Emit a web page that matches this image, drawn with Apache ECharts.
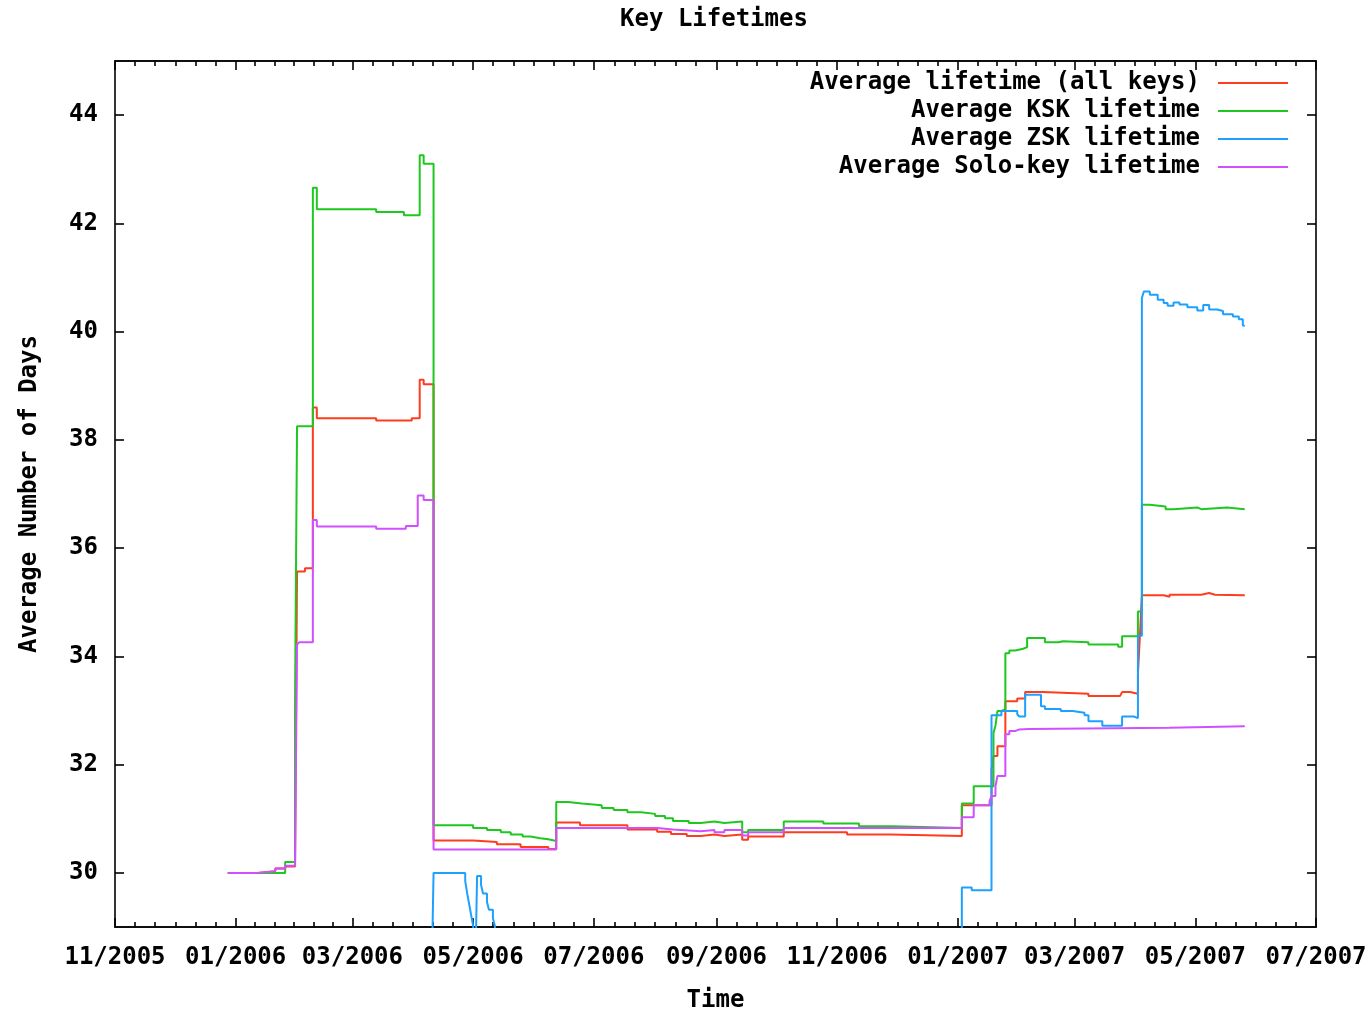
<!DOCTYPE html>
<html><head><meta charset="utf-8">
<script src="https://cdn.jsdelivr.net/npm/echarts@6/dist/echarts.min.js"></script>
<style>html,body{margin:0;padding:0;background:#fff}#c{width:1368px;height:1011px}</style>
</head><body><div id="c"></div>
<script>
const titleText = 'Key Lifetimes';
const xName = 'Time';
const yName = 'Average Number of Days';
const seriesNames = ['Average lifetime (all keys)', 'Average KSK lifetime', 'Average ZSK lifetime', 'Average Solo-key lifetime'];
const tickMonths = ['2005-11','2006-01','2006-03','2006-05','2006-07','2006-09','2006-11','2007-01','2007-03','2007-05','2007-07'];
const yTicks = [30, 32, 34, 36, 38, 40, 42, 44];

const allKeysData = [
['2005-12-28',30.00],['2006-01-12',30.03],['2006-01-21',30.08],['2006-01-26',30.12],['2006-01-31',30.17],
['2006-02-01',35.57],['2006-02-05',35.63],['2006-02-09',38.60],['2006-02-11',38.40],['2006-03-13',38.36],
['2006-03-31',38.40],['2006-04-04',39.11],['2006-04-06',39.03],['2006-04-11',30.60],['2006-05-01',30.57],
['2006-05-13',30.53],['2006-05-25',30.48],['2006-06-08',30.44],['2006-06-12',30.93],['2006-06-24',30.88],
['2006-07-18',30.80],['2006-08-02',30.76],['2006-08-09',30.72],['2006-08-17',30.68],['2006-08-24',30.71],
['2006-08-31',30.68],['2006-09-05',30.71],['2006-09-14',30.61],['2006-09-17',30.67],['2006-10-05',30.75],
['2006-11-06',30.71],['2006-11-28',30.68],['2007-01-03',31.25],['2007-01-18',31.91],['2007-01-19',32.16],
['2007-01-21',32.34],['2007-01-25',33.17],['2007-01-31',33.22],['2007-02-04',33.34],['2007-02-13',33.31],
['2007-03-08',33.27],['2007-03-24',33.24],['2007-03-25',33.34],['2007-03-29',33.31],['2007-04-02',33.67],
['2007-04-03',34.38],['2007-04-04',35.13],['2007-04-15',35.10],['2007-04-18',35.14],['2007-05-04',35.17],
['2007-05-08',35.14],['2007-05-11',35.17],['2007-05-12',35.13],['2007-05-26',35.13]
];
const kskData = [
['2005-12-28',30.00],['2006-01-26',30.20],['2006-01-31',33.20],['2006-02-01',38.25],['2006-02-09',42.66],
['2006-02-11',42.26],['2006-03-13',42.21],['2006-03-27',42.15],['2006-04-04',43.26],['2006-04-06',43.10],
['2006-04-11',30.88],['2006-05-01',30.83],['2006-05-08',30.79],['2006-05-15',30.75],['2006-05-20',30.71],
['2006-05-26',30.67],['2006-05-30',30.64],['2006-06-04',30.62],['2006-06-08',30.59],['2006-06-12',31.31],
['2006-06-18',31.28],['2006-06-25',31.25],['2006-07-05',31.20],['2006-07-11',31.16],['2006-07-18',31.12],
['2006-07-25',31.09],['2006-08-01',31.05],['2006-08-06',31.01],['2006-08-10',30.96],['2006-08-18',30.92],
['2006-08-24',30.95],['2006-08-31',30.92],['2006-09-05',30.95],['2006-09-14',30.75],['2006-09-17',30.79],
['2006-10-05',30.95],['2006-10-25',30.91],['2006-11-12',30.86],['2006-11-29',30.83],['2007-01-03',31.28],
['2007-01-09',31.60],['2007-01-19',32.59],['2007-01-20',32.72],['2007-01-21',32.99],['2007-01-23',33.02],
['2007-01-25',34.06],['2007-01-27',34.11],['2007-01-30',34.14],['2007-02-03',34.17],['2007-02-05',34.34],
['2007-02-14',34.26],['2007-02-21',34.28],['2007-02-23',34.26],['2007-03-08',34.22],['2007-03-23',34.18],
['2007-03-25',34.37],['2007-04-02',34.83],['2007-04-04',36.80],['2007-04-08',36.77],['2007-04-16',36.72],
['2007-04-20',36.75],['2007-05-02',36.72],['2007-05-04',36.75],['2007-05-17',36.72],['2007-05-26',36.72]
];
const zskData = [
['2006-04-10',28.00],['2006-04-11',30.00],['2006-04-27',29.85],['2006-04-28',29.62],['2006-04-29',29.42],
['2006-04-30',29.22],['2006-05-01',29.02],['2006-05-02',28.00],['2006-05-03',29.94],['2006-05-05',29.78],
['2006-05-06',29.62],['2006-05-08',29.46],['2006-05-09',29.32],['2006-05-11',29.16],['2006-05-12',29.02],
['2006-05-13',28.00],['2007-01-03',29.73],['2007-01-08',29.68],['2007-01-18',32.91],['2007-01-23',32.99],
['2007-01-31',32.93],['2007-02-01',32.89],['2007-02-04',33.29],['2007-02-12',33.08],['2007-02-14',33.03],
['2007-02-22',32.99],['2007-02-28',32.96],['2007-03-06',32.91],['2007-03-08',32.80],['2007-03-15',32.72],
['2007-03-25',32.89],['2007-03-31',32.86],['2007-04-02',34.38],['2007-04-04',40.62],['2007-04-05',40.74],
['2007-04-08',40.68],['2007-04-12',40.59],['2007-04-15',40.53],['2007-04-17',40.48],['2007-04-20',40.54],
['2007-04-23',40.50],['2007-04-27',40.45],['2007-05-02',40.39],['2007-05-05',40.49],['2007-05-08',40.41],
['2007-05-12',40.38],['2007-05-15',40.32],['2007-05-20',40.28],['2007-05-23',40.23],['2007-05-25',40.12],
['2007-05-26',40.10]
];
const soloData = [
['2005-12-28',30.00],['2006-01-12',30.03],['2006-01-21',30.08],['2006-01-26',30.13],['2006-01-31',30.19],
['2006-02-01',34.22],['2006-02-02',34.26],['2006-02-09',36.52],['2006-02-11',36.40],['2006-03-13',36.36],
['2006-03-28',36.41],['2006-04-03',36.97],['2006-04-06',36.89],['2006-04-11',30.43],['2006-06-12',30.83],
['2006-08-02',30.80],['2006-08-10',30.77],['2006-08-24',30.79],['2006-08-31',30.75],['2006-09-05',30.79],
['2006-09-14',30.69],['2006-09-17',30.75],['2006-10-05',30.83],['2007-01-03',31.03],['2007-01-09',31.25],
['2007-01-17',31.32],['2007-01-18',31.42],['2007-01-20',31.60],['2007-01-21',31.79],['2007-01-25',32.56],
['2007-01-27',32.62],['2007-01-30',32.65],['2007-02-01',32.66],['2007-02-06',32.68],['2007-04-18',32.71],
['2007-05-26',32.71]
];

const colors = ['#ff3c1e', '#1ec81e', '#1ea0ff', '#d050ff'];
const FONT = 'DejaVu Sans Mono';
const AX = '#000';

function toTs(s) { const p = s.split('-').map(Number); return Date.UTC(p[0], p[1] - 1, p[2] || 1); }
function toPts(arr) { return arr.map(d => [toTs(d[0]), d[1]]); }
const majorTs = tickMonths.map(toTs);
const minorTs = [];
for (let i = 0; i < majorTs.length - 1; i++) for (let k = 1; k < 6; k++) minorTs.push(majorTs[i] + (majorTs[i + 1] - majorTs[i]) * k / 6);
const xMin = majorTs[0], xMax = majorTs[majorTs.length - 1];
function fmt(v) { const d = new Date(v); const m = d.getUTCMonth() + 1; return (m < 10 ? '0' : '') + m + '/' + d.getUTCFullYear(); }

const textBase = { fontFamily: FONT, fontWeight: 'bold', fontSize: 24, color: '#000' };

function xAx(pos, ticks, len, withLabel, extra) {
  return Object.assign({
    type: 'value', position: pos, min: xMin, max: xMax, scale: true,
    axisLine: { show: true, onZero: false, lineStyle: { color: AX, width: 1.6 } },
    axisTick: { show: true, inside: true, length: len, customValues: ticks, lineStyle: { color: AX, width: 1.6 } },
    axisLabel: Object.assign({ show: withLabel, customValues: majorTs, formatter: fmt, margin: 19, showMinLabel: true, showMaxLabel: true, hideOverlap: false }, textBase),
    splitLine: { show: false }, minorTick: { show: false }, minorSplitLine: { show: false }
  }, extra || {});
}
function yAx(pos, withLabel, extra) {
  return Object.assign({
    type: 'value', position: pos, min: 29, max: 45,
    axisLine: { show: true, onZero: false, lineStyle: { color: AX, width: 1.6 } },
    axisTick: { show: true, inside: true, length: 9, customValues: yTicks, lineStyle: { color: AX, width: 1.6 } },
    axisLabel: Object.assign({ show: withLabel, customValues: yTicks, margin: 17 }, textBase),
    splitLine: { show: false }
  }, extra || {});
}

const dataSets = [allKeysData, kskData, zskData, soloData];
const chart = echarts.init(document.getElementById('c'), null, { renderer: 'canvas' });
chart.setOption({
  animation: false,
  backgroundColor: '#fff',
  title: { text: titleText, left: 714, textAlign: 'center', top: 8, padding: 0, textStyle: textBase },
  legend: {
    orient: 'vertical', right: 80, top: 71, padding: 0, align: 'right',
    itemWidth: 70, itemHeight: 2, itemGap: 4, icon: 'rect',
    textStyle: Object.assign({ padding: [6, 13, 0, 0] }, textBase),
    data: seriesNames
  },
  grid: { left: 115, right: 52, top: 61, bottom: 84, containLabel: false, outerBoundsMode: 'none' },
  xAxis: [
    xAx('bottom', majorTs, 9, true, { name: xName, nameLocation: 'middle', nameGap: 62, nameTextStyle: textBase }),
    xAx('bottom', minorTs, 5, false),
    xAx('top', majorTs, 9, false),
    xAx('top', minorTs, 5, false)
  ],
  yAxis: [
    yAx('left', true, { name: yName, nameLocation: 'middle', nameGap: 73, nameTextStyle: textBase }),
    yAx('right', false)
  ],
  series: dataSets.map((d, i) => ({
    name: seriesNames[i], type: 'line', step: 'end', data: toPts(d),
    xAxisIndex: 0, yAxisIndex: 0, symbol: 'none', showSymbol: false, clip: true,
    lineStyle: { width: 2, color: colors[i] }, itemStyle: { color: colors[i] }, z: 2 + i
  }))
});
</script></body></html>
